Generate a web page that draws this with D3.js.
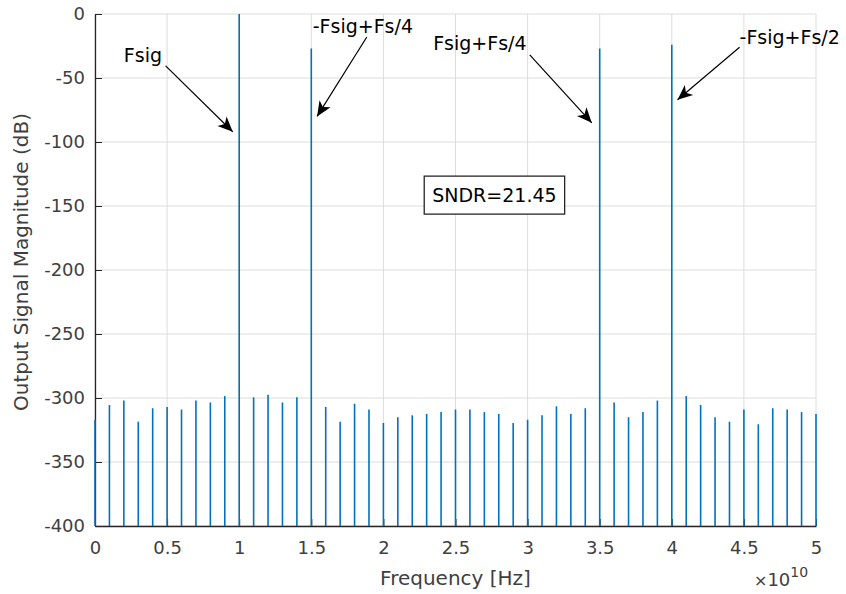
<!DOCTYPE html>
<html>
<head>
<meta charset="utf-8">
<script src="https://cdn.jsdelivr.net/npm/d3@7"></script>
<style>
  body { margin: 0; background: #fff; }
  svg text { font-family: "DejaVu Sans", sans-serif; fill: #404040; }
</style>
</head>
<body>
<svg id="chart"></svg>
<script>
// frequency bins in GHz (plotted in units of 1e10 Hz)
const freqGHz = [0, 1, 2, 3, 4, 5, 6, 7, 8, 9, 10, 11, 12, 13, 14, 15, 16, 17, 18, 19, 20,
    21, 22, 23, 24, 25, 26, 27, 28, 29, 30, 31, 32, 33, 34, 35, 36, 37, 38, 39, 40,
    41, 42, 43, 44, 45, 46, 47, 48, 49, 50];

// output magnitude in dB, one per bin
const magnitudeDb = [-317, -305.5, -302, -318.5, -308, -307, -309, -302, -303.5, -298.5, 0,
    -299.5, -297.5, -303.5, -299.5, -27, -307, -318.5, -304.5, -309, -319.5,
    -315, -313.5, -312.5, -311, -309, -309, -311, -312.5, -319.5, -317,
    -313.5, -306.5, -312.5, -308, -27, -303.5, -315, -311, -302, -24,
    -298.5, -305.5, -315, -318.5, -309, -320.5, -308, -309, -311, -312.5];

const xTicks = [0, 0.5, 1, 1.5, 2, 2.5, 3, 3.5, 4, 4.5, 5];
const yTicks = [0, -50, -100, -150, -200, -250, -300, -350, -400];

// annotation labels (x in 1e10 Hz, y in dB)
const noteLabels = ['Fsig', '-Fsig+Fs/4', 'Fsig+Fs/4', '-Fsig+Fs/2'];
const noteTextAt = [[0.2, -32], [1.51, -9], [2.345, -23], [4.47, -18]];
const noteArrowFrom = [[0.49, -40.5], [1.885, -18], [3.015, -32], [4.47, -26]];
const noteArrowTo = [[0.955, -92], [1.54, -80], [3.445, -85], [4.04, -67]];

const sndrText = 'SNDR=21.45';
const sndrAt = [2.77, -141.5];

const W = 846, H = 594;
const margin = {left: 95, top: 14, right: 30, bottom: 68};
const plotW = W - margin.left - margin.right;
const plotH = H - margin.top - margin.bottom;

const svg = d3.select('#chart').attr('width', W).attr('height', H);
const g = svg.append('g').attr('transform', `translate(${margin.left},${margin.top})`);

const x = d3.scaleLinear().domain([0, 5]).range([0, plotW]);
const y = d3.scaleLinear().domain([-400, 0]).range([plotH, 0]);

// grid
g.append('g').selectAll('line')
    .data(xTicks).join('line')
    .attr('x1', d => x(d)).attr('x2', d => x(d))
    .attr('y1', 0).attr('y2', plotH)
    .attr('stroke', '#dcdcdc').attr('stroke-width', 1);
g.append('g').selectAll('line')
    .data(yTicks).join('line')
    .attr('x1', 0).attr('x2', plotW)
    .attr('y1', d => y(d)).attr('y2', d => y(d))
    .attr('stroke', '#dcdcdc').attr('stroke-width', 1);

// axes
const xAxis = g.append('g')
    .attr('transform', `translate(0,${plotH})`)
    .call(d3.axisBottom(x).tickValues(xTicks).tickFormat(d3.format('')).tickSizeInner(-7).tickSizeOuter(0).tickPadding(15));
const yAxis = g.append('g')
    .call(d3.axisLeft(y).tickValues(yTicks).tickFormat(d => d).tickSizeInner(-7).tickSizeOuter(0).tickPadding(10));

[xAxis, yAxis].forEach(a => {
    a.selectAll('path').attr('stroke', '#262626').attr('stroke-width', 1.3);
    a.selectAll('line').attr('stroke', '#262626');
    a.selectAll('text').style('font-size', '18px').attr('fill', '#404040');
});

// stems
const stems = freqGHz.map((f, i) => ({f: f / 10, v: magnitudeDb[i]}));
g.append('g').selectAll('line')
    .data(stems).join('line')
    .attr('x1', d => x(d.f)).attr('x2', d => x(d.f))
    .attr('y1', y(-400)).attr('y2', d => y(d.v))
    .attr('stroke', '#0072BD').attr('stroke-width', 1.6);

// axis titles
svg.append('text')
    .attr('x', margin.left + plotW / 2).attr('y', 585)
    .attr('text-anchor', 'middle')
    .style('font-size', '20px')
    .text('Frequency [Hz]');
svg.append('text')
    .attr('transform', `translate(28,262) rotate(-90)`)
    .attr('text-anchor', 'middle')
    .style('font-size', '20px')
    .text('Output Signal Magnitude (dB)');

// exponent
const expo = svg.append('text').attr('x', 754).attr('y', 586).style('font-size', '18px');
expo.append('tspan').text('\u00d7').style('font-size', '16px');
expo.append('tspan').text('10');
expo.append('tspan').text('10').attr('dy', -9).style('font-size', '14px');

// arrows
svg.append('defs').append('marker')
    .attr('id', 'head')
    .attr('markerUnits', 'userSpaceOnUse')
    .attr('viewBox', '-16 -8 18 16')
    .attr('markerWidth', 18).attr('markerHeight', 16)
    .attr('refX', 0).attr('refY', 0)
    .attr('orient', 'auto')
    .append('path')
    .attr('d', 'M0,0 L-15,-6.5 L-11,0 L-15,6.5 Z')
    .attr('fill', '#000');

noteLabels.forEach((label, i) => {
    g.append('line')
        .attr('x1', x(noteArrowFrom[i][0])).attr('y1', y(noteArrowFrom[i][1]))
        .attr('x2', x(noteArrowTo[i][0])).attr('y2', y(noteArrowTo[i][1]))
        .attr('stroke', '#000').attr('stroke-width', 1.2)
        .attr('marker-end', 'url(#head)');
    g.append('text')
        .attr('x', x(noteTextAt[i][0])).attr('y', y(noteTextAt[i][1]))
        .attr('dominant-baseline', 'central')
        .style('font-size', '19px')
        .style('fill', '#000')
        .text(label);
});

// SNDR box
const sndrG = g.append('g');
const sndrRect = sndrG.append('rect');
const sndr = sndrG.append('text')
    .attr('x', x(sndrAt[0])).attr('y', y(sndrAt[1]))
    .attr('text-anchor', 'middle')
    .attr('dominant-baseline', 'central')
    .style('font-size', '19px')
    .style('fill', '#000')
    .text(sndrText);
const bb = sndr.node().getBBox();
sndrRect
    .attr('x', bb.x - 8).attr('y', bb.y - 8)
    .attr('width', bb.width + 16).attr('height', bb.height + 16)
    .attr('fill', '#fff').attr('stroke', '#262626').attr('stroke-width', 1.3);
</script>
</body>
</html>
